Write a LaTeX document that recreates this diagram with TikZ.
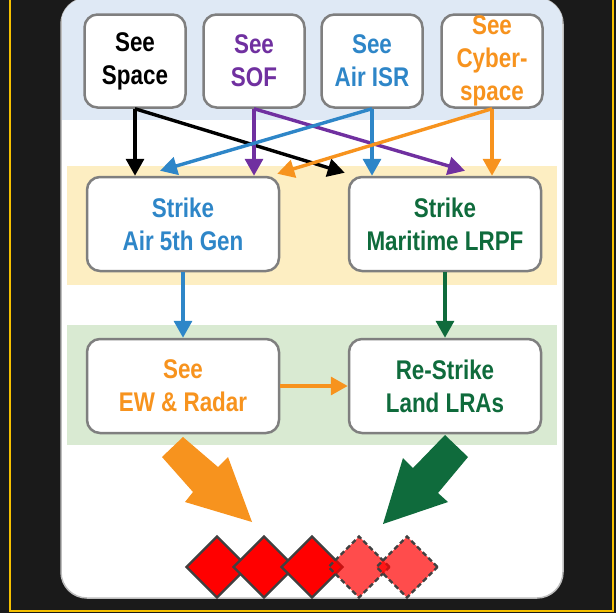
\documentclass[tikz,border=0pt]{standalone}
\usepackage{fontspec}
\setmainfont{Liberation Sans}[FakeStretch=0.83]
\usetikzlibrary{arrows.meta,shapes.geometric}

\definecolor{bgdark}{HTML}{1A1A1A}
\definecolor{frameyellow}{HTML}{F5C000}
\definecolor{panelgray}{HTML}{BDBDBD}
\definecolor{boxgray}{HTML}{7F7F7F}
\definecolor{bandblue}{HTML}{DFE9F5}
\definecolor{bandyellow}{HTML}{FDEEC2}
\definecolor{bandgreen}{HTML}{D9EAD2}
\definecolor{sofpurple}{HTML}{7030A0}
\definecolor{isrblue}{HTML}{2E86C8}
\definecolor{cyberorange}{HTML}{F7931E}
\definecolor{strikegreen}{HTML}{0F6B3C}
\definecolor{diagray}{HTML}{404040}

\tikzset{
  box/.style={draw=boxgray, line width=2.5pt, fill=white, rounded corners=13pt,
    align=center, inner sep=0pt, font=\fontsize{27}{33}\selectfont\bfseries},
  seebox/.style={box, minimum width=101pt, minimum height=93pt},
  strikebox/.style={box, minimum width=192pt, minimum height=94pt},
  link/.style={line width=3.4pt, -{Triangle[length=17pt,width=18pt]}},
  target/.style={diamond, aspect=1, draw=diagray, line width=2.4pt, fill=red,
    minimum size=62pt, inner sep=0pt},
  faded/.style={target, dash pattern=on 5pt off 3pt, fill opacity=0.7}
}

\begin{document}
\begin{tikzpicture}[x=1pt,y=-1pt]
    \useasboundingbox (0,0) rectangle (616,613);
    \fill[bgdark] (0,0) rectangle (616,613);
    \draw[frameyellow, line width=2pt] (10,-20) rectangle (613,611);
    \draw[panelgray, line width=1.5pt, fill=white, rounded corners=26pt] (61,-2) rectangle (563,598);
    \begin{scope}
        \clip[rounded corners=26pt] (61,-2) rectangle (563,598);
        \fill[bandblue] (62,-2) rectangle (562,120);
        \fill[bandyellow] (67,166) rectangle (557,285);
        \fill[bandgreen] (67,325) rectangle (557,445);
    \end{scope}

    \node[seebox] (space) at (135,61) {See\\Space};
    \node[seebox, text=sofpurple] (sof) at (254,61) {See\\SOF};
    \node[seebox, text=isrblue] (isr) at (372,61) {See\\Air ISR};
    \node[seebox, text=cyberorange] (cyber) at (492,61) {See\\Cyber-\\space};

    \node[strikebox, text=isrblue] (air5) at (183,224) {Strike\\Air 5th Gen};
    \node[strikebox, text=strikegreen] (marit) at (445,224) {Strike\\Maritime LRPF};
    \node[strikebox, text=cyberorange] (ew) at (183,386) {See\\EW \& Radar};
    \node[strikebox, text=strikegreen] (restrike) at (445,386) {Re-Strike\\Land LRAs};

    \draw[link] (space.south) -- (space.south |- air5.north);
    \draw[link] (space.south) -- ([xshift=-3pt,yshift=3pt]marit.north west);
    \draw[link, sofpurple] (sof.south) -- (sof.south |- air5.north);
    \draw[link, sofpurple] (sof.south) -- ([xshift=20pt,yshift=5pt]marit.north);
    \draw[link, isrblue] (isr.south) -- (isr.south |- marit.north);
    \draw[link, isrblue] (isr.south) -- ([xshift=-23pt,yshift=5pt]air5.north);
    \draw[link, cyberorange] (cyber.south) -- (cyber.south |- marit.north);
    \draw[link, cyberorange] (cyber.south) -- ([xshift=-3pt,yshift=2pt]air5.north east);

    \draw[link, isrblue] (air5.south) -- (ew.north);
    \draw[link, strikegreen] (marit.south) -- (restrike.north);
    \draw[link, cyberorange] (ew.east) -- (restrike.west);

    \fill[cyberorange] (183,437) -- (218,467) -- (228,457) -- (252,522) -- (185,502) -- (193,492) -- (162,457) -- cycle;
    \fill[strikegreen] (445,435) -- (468,457) -- (438,493) -- (448,502) -- (383,524) -- (403,458) -- (413,468) -- cycle;

    \node[target] (d1) at (217,567) {};
    \node[target] (d2) at (264,567) {};
    \node[target] (d3) at (312,567) {};
    \node[faded] (d4) at (359,567) {};
    \node[faded] (d5) at (407,567) {};
\end{tikzpicture}
\end{document}
